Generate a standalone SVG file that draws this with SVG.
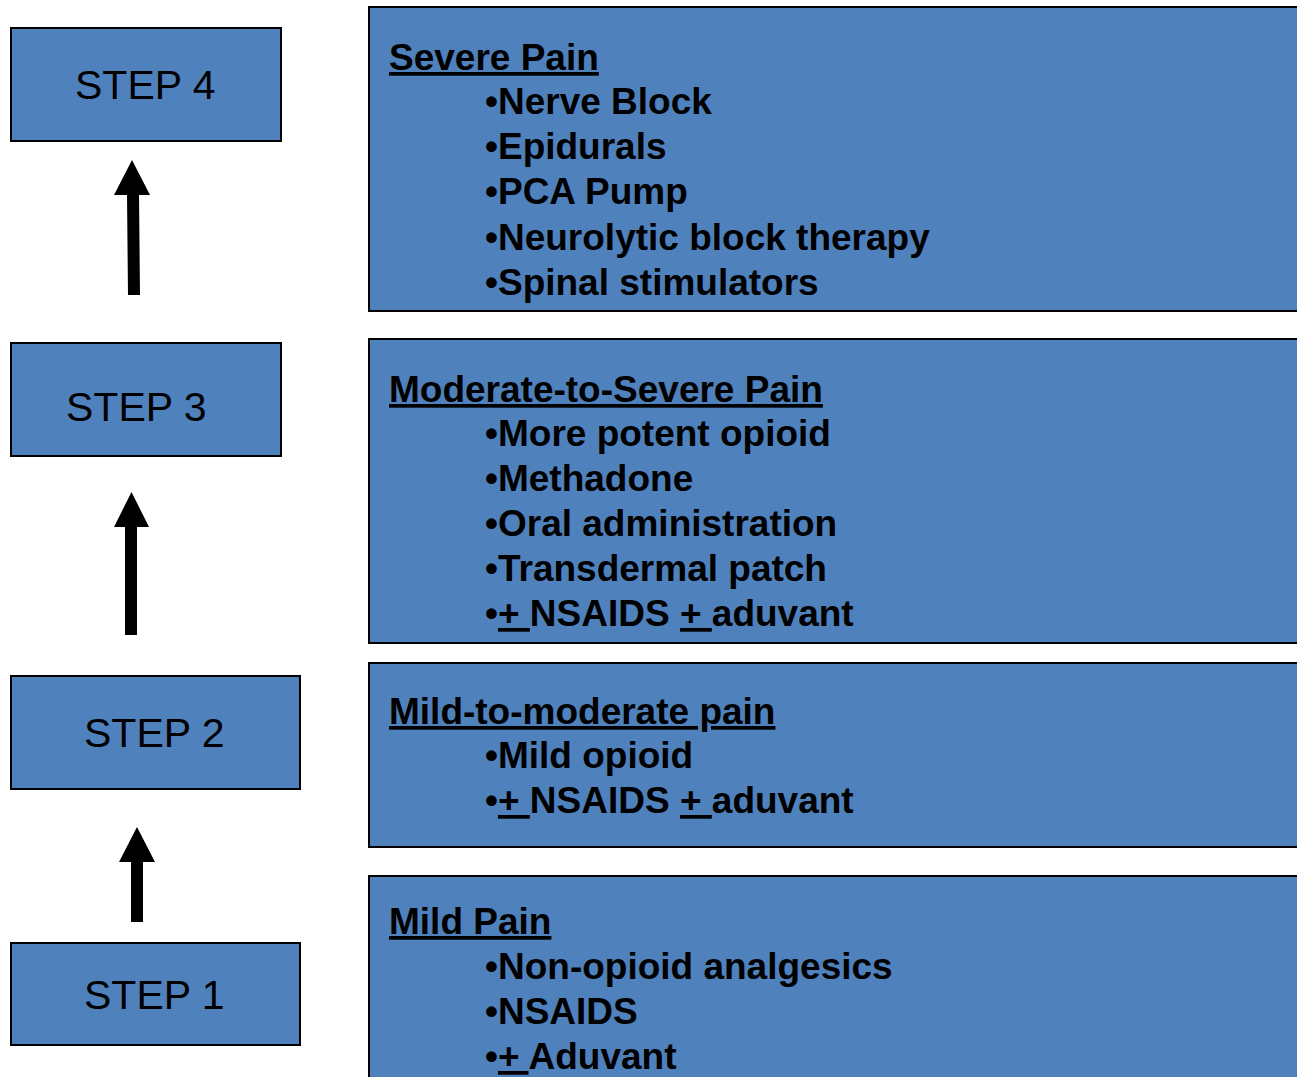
<svg xmlns="http://www.w3.org/2000/svg" width="1297" height="1077" viewBox="0 0 1297 1077">
<style>
.box{fill:#4F81BD;stroke:#000;stroke-width:2}
.step{font-family:"Liberation Sans",Arial,sans-serif;font-size:41px;fill:#000}
.txt{font-family:"Liberation Sans",Arial,sans-serif;font-size:37px;font-weight:bold;fill:#000}
.u{text-decoration:underline}
.arrow{fill:#000}
</style>
<rect width="1297" height="1077" fill="#fff"/>
<g id="step4"><rect class="box" x="11" y="28" width="270" height="113"/><text class="step" x="75" y="99">STEP 4</text></g>
<g id="step3"><rect class="box" x="11" y="343" width="270" height="113"/><text class="step" x="66" y="421">STEP 3</text></g>
<g id="step2"><rect class="box" x="11" y="676" width="289" height="113"/><text class="step" x="84" y="747">STEP 2</text></g>
<g id="step1"><rect class="box" x="11" y="943" width="289" height="102"/><text class="step" x="84" y="1009">STEP 1</text></g>
<g id="connectors">
<polygon class="arrow" points="132,160 150,195 139,195 140,295 128,295 127,195 114,195"/>
<polygon class="arrow" points="131.5,492 149,527 137,527 137,635 125,635 125,527 114,527"/>
<polygon class="arrow" points="137,827 155,862 143,862 143,922 131,922 131,862 119,862"/>
</g>
<g id="severe"><rect class="box" x="369" y="7" width="940" height="304"/>
<text class="txt"><tspan class="u" x="389" y="70">Severe Pain</tspan>
<tspan x="485" y="114">•Nerve Block</tspan>
<tspan x="485" y="159">•Epidurals</tspan>
<tspan x="485" y="204">•PCA Pump</tspan>
<tspan x="485" y="250">•Neurolytic block therapy</tspan>
<tspan x="485" y="295">•Spinal stimulators</tspan></text></g>
<g id="moderate-severe"><rect class="box" x="369" y="339" width="940" height="304"/>
<text class="txt"><tspan class="u" x="389" y="402">Moderate-to-Severe Pain</tspan>
<tspan x="485" y="446">•More potent opioid</tspan>
<tspan x="485" y="491">•Methadone</tspan>
<tspan x="485" y="536">•Oral administration</tspan>
<tspan x="485" y="581">•Transdermal patch</tspan>
<tspan x="485" y="626">•<tspan class="u">+ </tspan>NSAIDS <tspan class="u">+ </tspan>aduvant</tspan></text></g>
<g id="mild-moderate"><rect class="box" x="369" y="663" width="940" height="184"/>
<text class="txt"><tspan class="u" x="389" y="724">Mild-to-moderate pain</tspan>
<tspan x="485" y="768">•Mild opioid</tspan>
<tspan x="485" y="813">•<tspan class="u">+ </tspan>NSAIDS <tspan class="u">+ </tspan>aduvant</tspan></text></g>
<g id="mild"><rect class="box" x="369" y="876" width="940" height="220"/>
<text class="txt"><tspan class="u" x="389" y="934">Mild Pain</tspan>
<tspan x="485" y="979">•Non-opioid analgesics</tspan>
<tspan x="485" y="1024">•NSAIDS</tspan>
<tspan x="485" y="1069">•<tspan class="u">+ </tspan>Aduvant</tspan></text></g>
</svg>
